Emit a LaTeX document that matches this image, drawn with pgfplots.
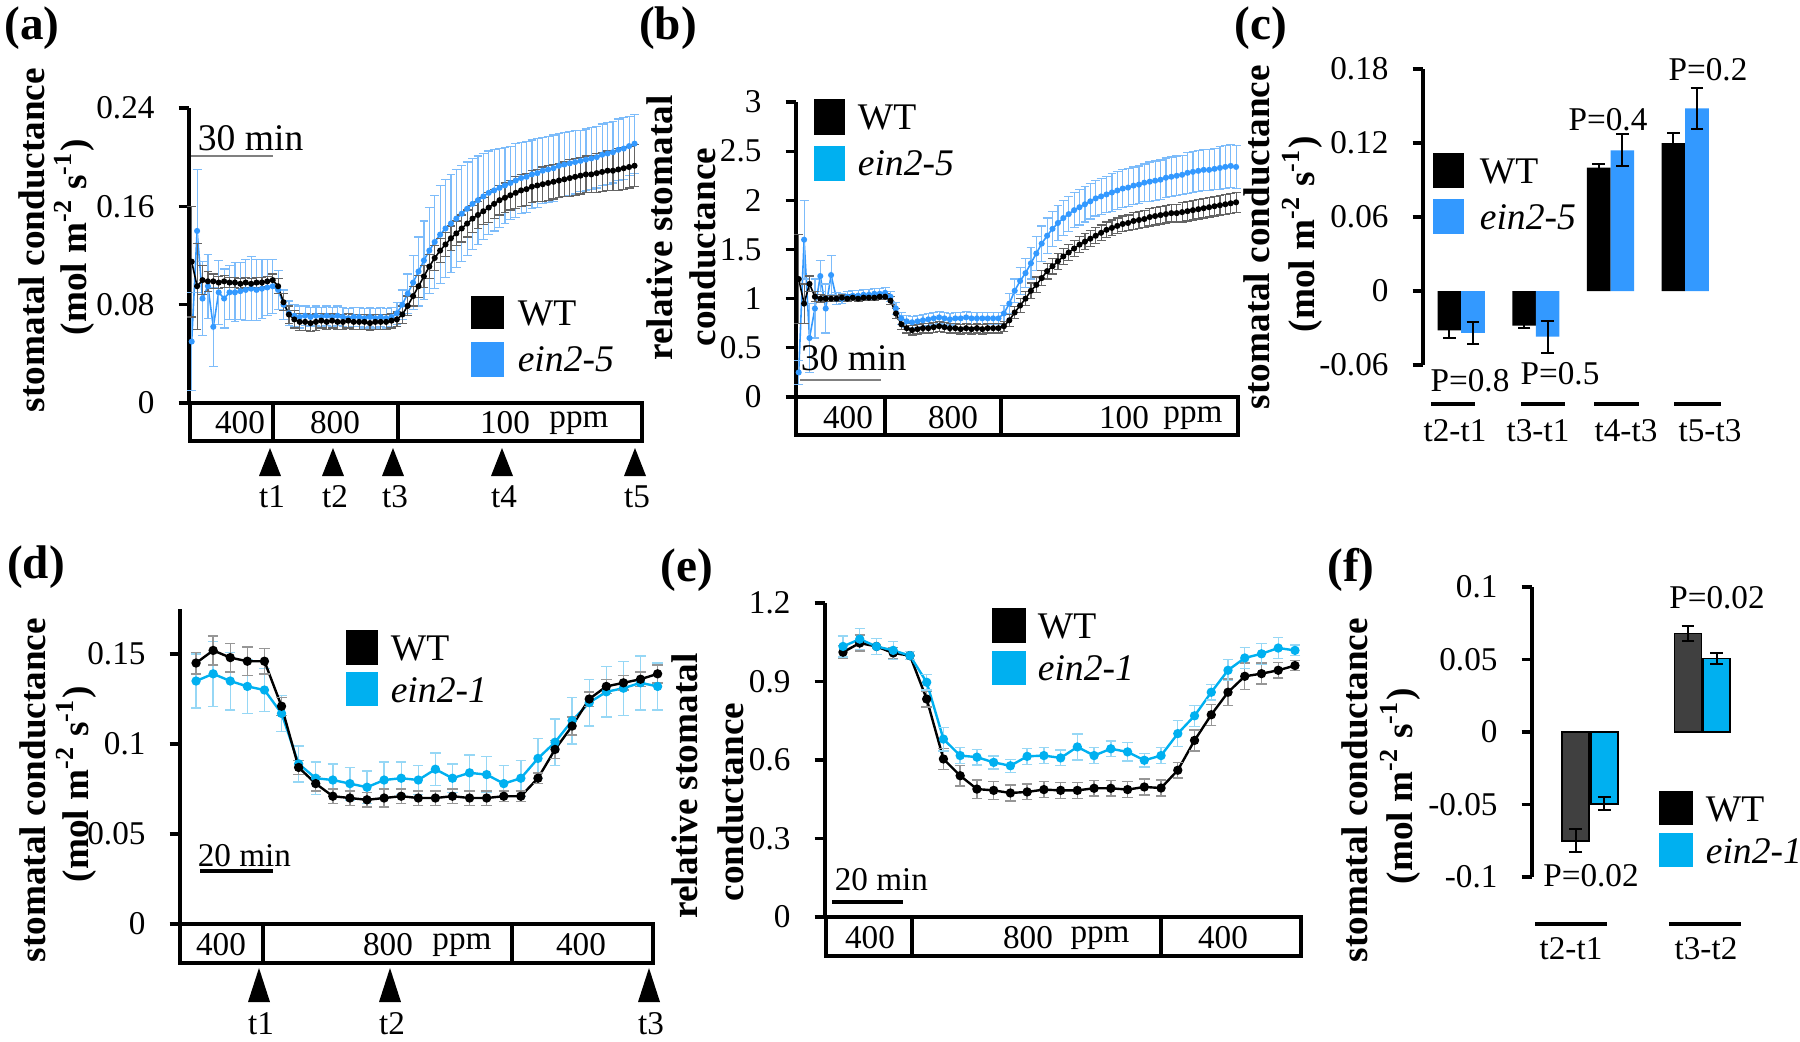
\documentclass[border=0pt]{standalone}
\usepackage{pgfplots}
\pgfplotsset{compat=1.18}
\usepackage{pgfplotstable}
\usepackage{fontspec}
\setmainfont{Liberation Serif}
\definecolor{bA}{RGB}{51,153,255}
\definecolor{bAe}{RGB}{125,188,250}
\definecolor{cB}{RGB}{0,176,240}
\definecolor{cBe}{RGB}{150,215,245}
\definecolor{gE}{RGB}{100,100,100}
\definecolor{gL}{RGB}{150,150,150}
\definecolor{dG}{RGB}{64,64,64}
\newcommand\tk{\fontsize{8.3}{9}\selectfont}
\newcommand\lgf{\fontsize{9.4}{10}\selectfont}
\newcommand\ylf{\fontsize{9.3}{10}\selectfont\bfseries}
\newcommand\plf{\fontsize{11.8}{12}\selectfont\bfseries}

\pgfplotstableread{
t w we e ee
1 0.115 0.045 0.050 0.040
3 0.095 0.035 0.140 0.050
5 0.100 0.012 0.085 0.030
7 0.099 0.008 0.095 0.026
9 0.099 0.006 0.062 0.032
11 0.098 0.005 0.090 0.026
13 0.099 0.005 0.085 0.024
15 0.098 0.004 0.090 0.022
17 0.098 0.004 0.090 0.024
19 0.097 0.004 0.091 0.023
21 0.098 0.004 0.092 0.025
23 0.097 0.004 0.093 0.026
25 0.098 0.004 0.092 0.025
27 0.098 0.004 0.093 0.024
29 0.099 0.004 0.094 0.023
31 0.100 0.005 0.095 0.022
33 0.095 0.006 0.092 0.016
35 0.082 0.007 0.080 0.012
37 0.072 0.007 0.073 0.010
39 0.068 0.007 0.071 0.009
41 0.066 0.007 0.070 0.009
43 0.066 0.007 0.071 0.008
45 0.065 0.007 0.070 0.008
47 0.066 0.007 0.071 0.008
49 0.067 0.006 0.070 0.008
51 0.066 0.006 0.071 0.008
53 0.067 0.006 0.070 0.008
55 0.066 0.006 0.071 0.008
57 0.066 0.006 0.070 0.008
59 0.067 0.006 0.069 0.008
61 0.066 0.006 0.070 0.008
63 0.066 0.006 0.070 0.008
65 0.066 0.006 0.069 0.008
67 0.065 0.006 0.070 0.008
69 0.066 0.006 0.069 0.008
71 0.066 0.006 0.070 0.008
73 0.066 0.006 0.069 0.008
75 0.067 0.006 0.070 0.008
77 0.068 0.006 0.073 0.009
79 0.072 0.007 0.080 0.012
81 0.079 0.008 0.089 0.016
83 0.087 0.008 0.098 0.022
85 0.095 0.009 0.107 0.028
87 0.103 0.009 0.116 0.032
89 0.111 0.010 0.124 0.035
91 0.118 0.010 0.131 0.038
93 0.124 0.010 0.137 0.040
95 0.129 0.010 0.142 0.040
97 0.134 0.010 0.146 0.040
99 0.138 0.010 0.150 0.040
101 0.142 0.011 0.154 0.039
103 0.146 0.011 0.158 0.038
105 0.150 0.011 0.162 0.037
107 0.153 0.011 0.165 0.036
109 0.156 0.011 0.168 0.035
111 0.159 0.012 0.171 0.034
113 0.162 0.012 0.173 0.033
115 0.165 0.012 0.175 0.032
117 0.167 0.012 0.177 0.031
119 0.169 0.012 0.179 0.030
121 0.171 0.013 0.181 0.030
123 0.173 0.013 0.183 0.029
125 0.174 0.013 0.184 0.029
127 0.176 0.013 0.186 0.028
129 0.177 0.013 0.187 0.028
131 0.178 0.014 0.189 0.027
133 0.179 0.014 0.190 0.027
135 0.180 0.014 0.191 0.027
137 0.181 0.014 0.193 0.026
139 0.182 0.014 0.194 0.026
141 0.183 0.015 0.195 0.026
143 0.184 0.015 0.196 0.026
145 0.185 0.015 0.197 0.025
147 0.186 0.015 0.198 0.025
149 0.186 0.015 0.199 0.025
151 0.187 0.016 0.200 0.025
153 0.188 0.016 0.202 0.025
155 0.189 0.016 0.203 0.025
157 0.189 0.016 0.204 0.025
159 0.190 0.017 0.206 0.025
161 0.191 0.017 0.207 0.025
163 0.192 0.017 0.209 0.024
165 0.193 0.017 0.211 0.024
}\dataA

\pgfplotstableread{
t w we e ee
1 1.20 0.45 0.25 0.12
3 0.95 0.20 1.60 0.40
5 1.15 0.08 0.60 0.35
7 1.02 0.05 0.90 0.30
9 1.00 0.04 1.23 0.16
11 1.00 0.03 0.90 0.25
13 1.00 0.03 1.24 0.20
15 1.00 0.03 1.00 0.06
17 1.01 0.03 1.00 0.05
19 1.00 0.03 1.02 0.05
21 1.01 0.03 1.03 0.05
23 1.00 0.03 1.03 0.05
25 1.01 0.03 1.04 0.05
27 1.01 0.03 1.04 0.05
29 1.01 0.03 1.05 0.05
31 1.02 0.03 1.05 0.05
33 1.02 0.03 1.06 0.05
35 0.98 0.04 1.02 0.05
37 0.85 0.05 0.90 0.06
39 0.74 0.05 0.80 0.06
41 0.70 0.05 0.77 0.06
43 0.68 0.05 0.76 0.06
45 0.69 0.05 0.77 0.06
47 0.70 0.05 0.78 0.06
49 0.70 0.05 0.79 0.06
51 0.71 0.05 0.80 0.06
53 0.72 0.05 0.81 0.06
55 0.71 0.05 0.80 0.06
57 0.70 0.05 0.79 0.06
59 0.70 0.05 0.80 0.06
61 0.69 0.05 0.80 0.06
63 0.70 0.05 0.81 0.06
65 0.69 0.05 0.80 0.06
67 0.70 0.05 0.80 0.06
69 0.69 0.05 0.80 0.06
71 0.70 0.05 0.80 0.06
73 0.70 0.05 0.80 0.06
75 0.70 0.05 0.80 0.06
77 0.72 0.05 0.85 0.08
79 0.78 0.06 0.95 0.10
81 0.86 0.06 1.08 0.12
83 0.93 0.07 1.18 0.14
85 1.00 0.07 1.26 0.15
87 1.08 0.08 1.36 0.16
89 1.14 0.08 1.46 0.17
91 1.21 0.08 1.56 0.18
93 1.28 0.08 1.64 0.18
95 1.33 0.08 1.71 0.18
97 1.38 0.08 1.77 0.18
99 1.43 0.08 1.82 0.18
101 1.47 0.08 1.86 0.18
103 1.51 0.08 1.90 0.18
105 1.55 0.08 1.93 0.18
107 1.58 0.08 1.96 0.18
109 1.61 0.08 1.99 0.18
111 1.64 0.08 2.02 0.18
113 1.67 0.08 2.04 0.18
115 1.70 0.08 2.06 0.18
117 1.72 0.08 2.08 0.19
119 1.74 0.08 2.10 0.19
121 1.76 0.08 2.12 0.19
123 1.77 0.08 2.13 0.19
125 1.79 0.09 2.15 0.19
127 1.80 0.09 2.16 0.19
129 1.81 0.09 2.18 0.19
131 1.83 0.09 2.19 0.20
133 1.84 0.09 2.20 0.20
135 1.85 0.09 2.21 0.20
137 1.86 0.09 2.23 0.20
139 1.87 0.09 2.24 0.20
141 1.87 0.09 2.25 0.20
143 1.88 0.10 2.26 0.20
145 1.89 0.10 2.28 0.21
147 1.90 0.10 2.29 0.21
149 1.91 0.10 2.30 0.21
151 1.92 0.10 2.31 0.21
153 1.93 0.10 2.31 0.21
155 1.94 0.10 2.32 0.21
157 1.95 0.10 2.33 0.22
159 1.96 0.10 2.34 0.22
161 1.97 0.10 2.35 0.22
163 1.98 0.10 2.34 0.22
}\dataB

\pgfplotstableread{
i w we e ee
0 0.145 0.006 0.135 0.015
1 0.152 0.008 0.139 0.018
2 0.148 0.008 0.135 0.016
3 0.146 0.008 0.132 0.015
4 0.146 0.007 0.130 0.012
5 0.121 0.005 0.117 0.010
6 0.087 0.004 0.089 0.010
7 0.078 0.004 0.081 0.009
8 0.071 0.004 0.080 0.009
9 0.070 0.004 0.078 0.009
10 0.069 0.004 0.076 0.009
11 0.070 0.005 0.080 0.010
12 0.071 0.004 0.081 0.009
13 0.070 0.004 0.080 0.008
14 0.070 0.004 0.086 0.009
15 0.071 0.004 0.081 0.008
16 0.070 0.004 0.084 0.010
17 0.070 0.004 0.083 0.010
18 0.071 0.003 0.078 0.010
19 0.071 0.003 0.081 0.010
20 0.081 0.003 0.092 0.011
21 0.097 0.005 0.101 0.013
22 0.110 0.005 0.113 0.013
23 0.125 0.004 0.123 0.013
24 0.132 0.004 0.129 0.014
25 0.134 0.004 0.131 0.015
26 0.136 0.004 0.134 0.015
27 0.139 0.005 0.132 0.013
}\dataD

\pgfplotstableread{
i w we e ee
0 1.012 0.025 1.034 0.040
1 1.047 0.030 1.062 0.040
2 1.034 0.030 1.034 0.030
3 1.009 0.020 1.019 0.035
4 0.999 0.015 0.999 0.015
5 0.833 0.030 0.897 0.030
6 0.604 0.040 0.680 0.045
7 0.540 0.040 0.617 0.030
8 0.489 0.035 0.611 0.030
9 0.484 0.035 0.591 0.025
10 0.474 0.030 0.578 0.025
11 0.478 0.030 0.614 0.030
12 0.487 0.030 0.617 0.030
13 0.484 0.030 0.608 0.030
14 0.484 0.030 0.650 0.050
15 0.492 0.030 0.617 0.030
16 0.492 0.030 0.643 0.030
17 0.487 0.030 0.631 0.035
18 0.497 0.030 0.599 0.025
19 0.493 0.030 0.617 0.030
20 0.561 0.030 0.701 0.050
21 0.675 0.040 0.769 0.040
22 0.773 0.040 0.859 0.030
23 0.859 0.050 0.943 0.040
24 0.920 0.050 0.990 0.040
25 0.930 0.040 1.006 0.040
26 0.943 0.030 1.028 0.040
27 0.961 0.020 1.019 0.020
}\dataE

% (c): bar centres of WT (xw) and ein2-5 (xe) in each group
\pgfplotstableread{
xw xe w we e ee
-0.158 0.158 -0.032 0.006 -0.034 0.009
0.842 1.158 -0.028 0.002 -0.037 0.013
1.842 2.158 0.100 0.003 0.114 0.013
2.842 3.158 0.120 0.008 0.148 0.017
}\dataC

\pgfplotstableread{
xw xe w we e ee
-0.128 0.128 -0.075 0.008 -0.0495 0.0046
0.872 1.128 0.068 0.005 0.0507 0.0035
}\dataF

\pgfplotsset{
  base/.style={scale only axis, anchor=south west, clip=false,
    axis x line=none, axis y line*=left,
    axis line style={line width=0.8pt},
    tick align=outside, ytick pos=left, major tick length=2.6pt,
    major tick style={line width=0.8pt, black},
    yticklabel style={font=\tk, xshift=-2.5pt}},
  ebA/.style={error bars/.cd, y dir=both, y explicit,
    error bar style={#1, line width=0.3pt},
    error mark options={#1, rotate=90, mark size=1.1pt, line width=0.3pt}},
  ebB/.style={error bars/.cd, y dir=both, y explicit,
    error bar style={#1, line width=0.35pt},
    error mark options={#1, rotate=90, mark size=1.3pt, line width=0.35pt}},
  ebK/.style={error bars/.cd, y dir=both, y explicit,
    error bar style={black, line width=0.5pt},
    error mark options={black, rotate=90, mark size=1.6pt, line width=0.5pt}},
}

\begin{document}
\begin{tikzpicture}[x=0.25pt,y=-0.25pt, t/.style={inner sep=0pt}]
\fill[white] (0,0) rectangle (1800,1041);
\useasboundingbox (0,0) rectangle (1800,1041);

% ---------------- (a)
\begin{axis}[base, at={(47.25pt,-100.75pt)}, width=113pt, height=73.75pt,
  xmin=0, xmax=167.4, ymin=0, ymax=0.24,
  ytick={0,0.08,0.16,0.24}, yticklabels={0,0.08,0.16,0.24}]
\addplot[bA, mark=*, mark size=0.55pt, line width=0.4pt, ebA=bAe] table[x=t, y=e, y error=ee] {\dataA};
\addplot[black, mark=*, mark size=0.55pt, line width=0.4pt, ebA=gE] table[x=t, y=w, y error=we] {\dataA};
\end{axis}
% ---------------- (b)
\begin{axis}[base, at={(199pt,-99.25pt)}, width=110.5pt, height=73.75pt,
  xmin=0, xmax=163.7, ymin=0, ymax=3,
  ytick={0,0.5,1,1.5,2,2.5,3}, yticklabels={0,0.5,1,1.5,2,2.5,3}]
\addplot[bA, mark=*, mark size=0.55pt, line width=0.4pt, ebA=bAe] table[x=t, y=e, y error=ee] {\dataB};
\addplot[black, mark=*, mark size=0.55pt, line width=0.4pt, ebA=gE] table[x=t, y=w, y error=we] {\dataB};
\end{axis}
% ---------------- (c)
\begin{axis}[base, at={(355.75pt,-91.25pt)}, width=76.75pt, height=74pt,
  xmin=-0.511, xmax=3.6, ymin=-0.06, ymax=0.18,
  ytick={-0.06,0,0.06,0.12,0.18}, yticklabels={-0.06,0,0.06,0.12,0.18}]
\addplot[ybar, bar width=0.316, bar shift=0pt, fill=black, draw=none, ebK]
  table[x=xw, y=w, y error=we] {\dataC};
\addplot[ybar, bar width=0.316, bar shift=0pt, fill=bA, draw=none, ebK]
  table[x=xe, y=e, y error=ee] {\dataC};
\end{axis}
% ---------------- (d)
\begin{axis}[base, at={(45pt,-231pt)}, width=118.25pt, height=78.75pt,
  xmin=-0.94, xmax=26.73, ymin=0, ymax=0.175,
  ytick={0,0.05,0.1,0.15}, yticklabels={0,0.05,0.1,0.15}]
\addplot[cB, mark=*, mark size=0.85pt, line width=0.6pt, ebB=cBe] table[x=i, y=e, y error=ee] {\dataD};
\addplot[black, mark=*, mark size=0.85pt, line width=0.6pt, ebB=gL] table[x=i, y=w, y error=we] {\dataD};
\end{axis}
% ---------------- (e)
\begin{axis}[base, at={(206.25pt,-229.25pt)}, width=119pt, height=78.5pt,
  xmin=-1.075, xmax=27.36, ymin=0, ymax=1.2,
  ytick={0,0.3,0.6,0.9,1.2}, yticklabels={0,0.3,0.6,0.9,1.2}]
\addplot[black, mark=*, mark size=0.85pt, line width=0.6pt, ebB=gL] table[x=i, y=w, y error=we] {\dataE};
\addplot[cB, mark=*, mark size=0.85pt, line width=0.6pt, ebB=cBe] table[x=i, y=e, y error=ee] {\dataE};
\end{axis}
% ---------------- (f)
\begin{axis}[base, at={(383pt,-219.25pt)}, width=62.25pt, height=72.5pt,
  xmin=-0.516, xmax=1.7, ymin=-0.1, ymax=0.1,
  ytick={-0.1,-0.05,0,0.05,0.1}, yticklabels={-0.1,-0.05,0,0.05,0.1}]
\addplot[ybar, bar width=0.24, bar shift=0pt, fill=dG, draw=black, line width=0.4pt, ebK]
  table[x=xw, y=w, y error=we] {\dataF};
\addplot[ybar, bar width=0.24, bar shift=0pt, fill=cB, draw=black, line width=0.4pt, ebK]
  table[x=xe, y=e, y error=ee] {\dataF};
\end{axis}

% ======== annotations
% panel letters
\node[t, font=\plf] at (32,28) {(a)};
\node[t, font=\plf] at (668,28) {(b)};
\node[t, font=\plf] at (1261,28) {(c)};
\node[t, font=\plf] at (36,567) {(d)};
\node[t, font=\plf] at (687,570) {(e)};
\node[t, font=\plf] at (1351,570) {(f)};

% y labels
\node[t, rotate=90, font=\ylf] at (32,240) {stomatal conductance};
\node[t, rotate=90, font=\ylf] at (74,237) {(mol m\textsuperscript{-2} s\textsuperscript{-1})};
\node[t, rotate=90, font=\ylf] at (660,228) {relative stomatal};
\node[t, rotate=90, font=\ylf] at (703,247) {conductance};
\node[t, rotate=90, font=\ylf] at (1257,237) {stomatal conductance};
\node[t, rotate=90, font=\ylf] at (1302,234) {(mol m\textsuperscript{-2} s\textsuperscript{-1})};
\node[t, rotate=90, font=\ylf] at (33,790) {stomatal conductance};
\node[t, rotate=90, font=\ylf] at (76,784) {(mol m\textsuperscript{-2} s\textsuperscript{-1})};
\node[t, rotate=90, font=\ylf] at (685,786) {relative stomatal};
\node[t, rotate=90, font=\ylf] at (731,802) {conductance};
\node[t, rotate=90, font=\ylf] at (1355,790) {stomatal conductance};
\node[t, rotate=90, font=\ylf] at (1400,786) {(mol m\textsuperscript{-2} s\textsuperscript{-1})};

% CO2 boxes
\begin{scope}[line width=0.8pt]
\draw (190,403) rectangle (642,441); \draw (273,403) -- (273,441); \draw (398,403) -- (398,441);
\draw (796,397) rectangle (1238,435); \draw (885,397) -- (885,435); \draw (1001,397) -- (1001,435);
\draw (180,924) rectangle (653,963); \draw (263,924) -- (263,963); \draw (512,924) -- (512,963);
\draw (826,917) rectangle (1301,956); \draw (912,917) -- (912,956); \draw (1161,917) -- (1161,956);
\end{scope}
\node[t, font=\tk] at (240,423) {400};
\node[t, font=\tk] at (335,423) {800};
\node[t, font=\tk] at (505,423) {100};
\node[t, font=\tk] at (579,423) {ppm};
\node[t, font=\tk] at (848,418) {400};
\node[t, font=\tk] at (953,418) {800};
\node[t, font=\tk] at (1124,418) {100};
\node[t, font=\tk] at (1193,418) {ppm};
\node[t, font=\tk] at (221,945) {400};
\node[t, font=\tk] at (388,945) {800};
\node[t, font=\tk] at (462,945) {ppm};
\node[t, font=\tk] at (581,945) {400};
\node[t, font=\tk] at (870,938) {400};
\node[t, font=\tk] at (1028,938) {800};
\node[t, font=\tk] at (1100,938) {ppm};
\node[t, font=\tk] at (1223,938) {400};

% arrows (a)
\foreach \xx/\lab in {270/t1, 333/t2, 393/t3, 502/t4, 635/t5}{
  \fill (\xx-11,476) -- (\xx+11,476) -- (\xx,448) -- cycle;
  \node[t, font=\tk] at (\xx+2,497) {\lab};
}
% arrows (d)
\foreach \xx/\lab in {259/t1, 390/t2, 649/t3}{
  \fill (\xx-11,1002) -- (\xx+11,1002) -- (\xx,968) -- cycle;
  \node[t, font=\tk] at (\xx+2,1024) {\lab};
}

% scale bars
\node[t, font=\lgf, anchor=base west] at (197,150) {30 min};
\draw[gray, line width=0.6pt] (191,156) -- (273,156);
\node[t, font=\lgf, anchor=base west] at (800,370) {30 min};
\draw[gray, line width=0.6pt] (800,380) -- (881,380);
\node[t, font=\tk, anchor=base west] at (197,866) {20 min};
\draw[black, line width=0.8pt] (200,871) -- (273,871);
\node[t, font=\tk, anchor=base west] at (834,890) {20 min};
\draw[black, line width=0.8pt] (832,902) -- (903,902);

% legends
\fill[black] (471,296) rectangle (504,329);
\fill[bA] (471,342) rectangle (504,377);
\node[t, font=\lgf, anchor=west] at (517,313) {WT};
\node[t, font=\lgf, anchor=west] at (517,359) {\textit{ein2-5}};

\fill[black] (814,99) rectangle (845,135);
\fill[cB] (814,146) rectangle (845,181);
\node[t, font=\lgf, anchor=west] at (857,117) {WT};
\node[t, font=\lgf, anchor=west] at (857,163) {\textit{ein2-5}};

\fill[black] (1433,153) rectangle (1464,188);
\fill[bA] (1433,199) rectangle (1464,234);
\node[t, font=\lgf, anchor=west] at (1479,171) {WT};
\node[t, font=\lgf, anchor=west] at (1479,217) {\textit{ein2-5}};

\fill[black] (346,630) rectangle (378,665);
\fill[cB] (346,672) rectangle (378,706);
\node[t, font=\lgf, anchor=west] at (390,648) {WT};
\node[t, font=\lgf, anchor=west] at (390,690) {\textit{ein2-1}};

\fill[black] (992,608) rectangle (1026,643);
\fill[cB] (992,651) rectangle (1026,685);
\node[t, font=\lgf, anchor=west] at (1037,626) {WT};
\node[t, font=\lgf, anchor=west] at (1037,668) {\textit{ein2-1}};

\fill[black] (1659,791) rectangle (1693,825);
\fill[cB] (1659,833) rectangle (1693,867);
\node[t, font=\lgf, anchor=west] at (1705,809) {WT};
\node[t, font=\lgf, anchor=west] at (1705,851) {\textit{ein2-1}};

% (c) categories and P values
\foreach \a/\b in {1431/1475, 1521/1565, 1594/1639, 1674/1721}{\draw[line width=0.8pt] (\a,404) -- (\b,404);}
\node[t, font=\tk] at (1455,431) {t2-t1};
\node[t, font=\tk] at (1538,431) {t3-t1};
\node[t, font=\tk] at (1626,431) {t4-t3};
\node[t, font=\tk] at (1710,431) {t5-t3};
\node[t, font=\tk] at (1470,381) {P=0.8};
\node[t, font=\tk] at (1560,374) {P=0.5};
\node[t, font=\tk] at (1608,120) {P=0.4};
\node[t, font=\tk] at (1708,70) {P=0.2};

% (f) categories and P values
\foreach \a/\b in {1535/1607, 1669/1741}{\draw[line width=0.8pt] (\a,924) -- (\b,924);}
\node[t, font=\tk] at (1571,949) {t2-t1};
\node[t, font=\tk] at (1706,949) {t3-t2};
\node[t, font=\tk] at (1591,876) {P=0.02};
\node[t, font=\tk] at (1717,598) {P=0.02};
\end{tikzpicture}
\end{document}
